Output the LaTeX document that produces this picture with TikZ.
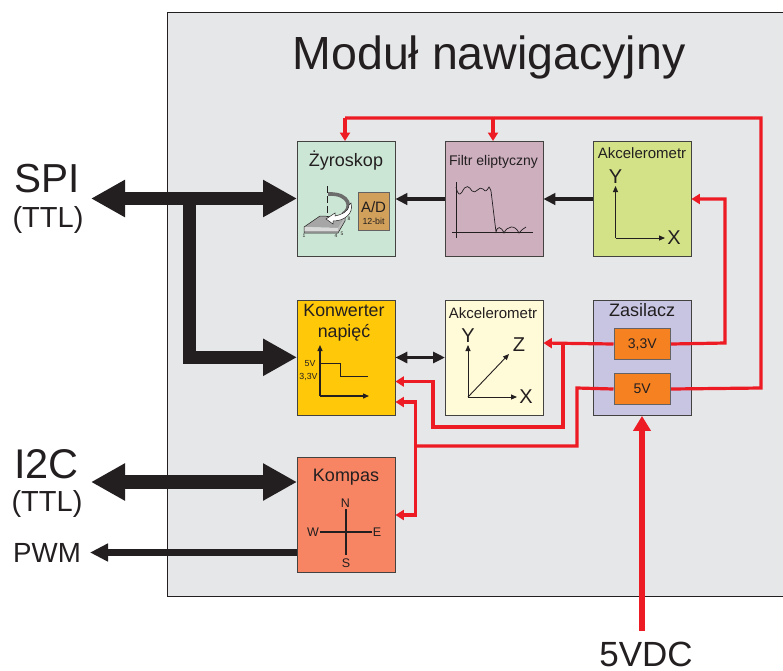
\documentclass[tikz,border=0pt]{standalone}
\usepackage{fontspec}
\setmainfont{Liberation Sans}
\usetikzlibrary{arrows.meta}
\definecolor{rd}{HTML}{ED1C24}
\definecolor{bk}{HTML}{231F20}
\definecolor{pan}{HTML}{E6E7E9}
\definecolor{orng}{HTML}{F68121}
\tikzset{
 x=1pt,y=-1pt,
 block/.style={draw=bk!85!white,line width=0.9pt,anchor=north west,minimum width=97.5pt,minimum height=115pt,inner sep=0pt},
 sub/.style={draw=bk!70!white,line width=1pt,fill=orng,anchor=north west,minimum width=56.5pt,minimum height=31pt,inner sep=0pt,font=\fontsize{14}{15}\selectfont,text=bk},
 lbl/.style={text=bk,inner sep=0pt,align=center},
 pwr/.style={draw=rd,line width=3.2pt,-{Triangle[length=8.5pt,width=10pt]}},
 pwrn/.style={draw=rd,line width=3.2pt},
 fat/.style={draw=bk,line width=13.5pt,{Triangle[length=34pt,width=35pt]}-{Triangle[length=34pt,width=35pt]}},
 fat1/.style={draw=bk,line width=13.5pt,-{Triangle[length=34pt,width=35pt]}},
 med/.style={draw=bk,line width=6.5pt,-{Triangle[length=18pt,width=17pt]}},
 ax/.style={draw=bk,line width=0.9pt,-{Triangle[length=6pt,width=5pt]}},
}
\begin{document}
\begin{tikzpicture}
\useasboundingbox (0,0) rectangle (783,670);
\fill[pan] (167,12) rectangle (783,596);
\draw[bk,line width=1pt] (783,12) -- (167,12) -- (167,596) -- (783,596);
\node[lbl,font=\fontsize{46.5}{50}\selectfont] (title) at (489,57) {Moduł nawigacyjny};

\node[block,fill={rgb,255:red,203;green,230;blue,213}] (zyro) at (297,141) {};
\node[block,fill={rgb,255:red,205;green,175;blue,190}] (filt) at (445,141) {};
\node[block,fill={rgb,255:red,211;green,226;blue,135}] (ak1) at (593,141) {};
\node[block,fill={rgb,255:red,255;green,200;blue,8}] (konw) at (297,300) {};
\node[block,fill={rgb,255:red,255;green,250;blue,215}] (ak2) at (445,300) {};
\node[block,fill={rgb,255:red,199;green,197;blue,226}] (zas) at (593,300) {};
\node[block,fill={rgb,255:red,247;green,133;blue,100}] (komp) at (297,457) {};
\node[sub] (v33) at (613.5,328) {3,3V};
\node[sub] (v5) at (613.5,373) {5V};
\node[lbl,font=\fontsize{18}{20}\selectfont] (t1) at (346,161) {Żyroskop};
\node[lbl,font=\fontsize{14}{16}\selectfont] (t2) at (493.5,162) {Filtr eliptyczny};
\node[lbl,font=\fontsize{15}{16}\selectfont] (t3) at (642,153.5) {Akcelerometr};
\node[lbl,font=\fontsize{17.8}{21}\selectfont] (t4) at (344,323) {Konwerter\\napięć};
\node[lbl,font=\fontsize{15}{16}\selectfont] (t5) at (493,313) {Akcelerometr};
\node[lbl,font=\fontsize{18}{20}\selectfont] (t6) at (642,310.5) {Zasilacz};
\node[lbl,font=\fontsize{18}{20}\selectfont] (t7) at (346,477) {Kompas};

% red
\coordinate (c1) at (345,118);
\coordinate (c2) at (493,118);
\coordinate (c3) at (761,118);
\coordinate (c4) at (761,388);
\coordinate (c5) at (725,343);
\coordinate (c6) at (725,199);
\coordinate (c7) at (563,343);
\coordinate (c8) at (563,427);
\coordinate (c9) at (433,427);
\coordinate (c10) at (433,381.5);
\coordinate (c11) at (577,388);
\coordinate (c12) at (577,446);
\coordinate (c13) at (415.5,446);
\coordinate (c14) at (415.5,402);
\coordinate (c15) at (415.5,515);
\draw[pwrn,line join=miter] (v5.east) -- (c4) -- (c3) -- (c1);
\draw[pwr] (c1) -- (345,141);
\draw[pwr] (c2) -- (493,141);
\draw[pwr] (v33.east) -- (c5) -- (c6) -- (ak1.east |- c6);
\draw[pwr] (v33.west) -- (ak2.east |- c7);
\draw[pwr] (c7) -- (c8) -- (c9) -- (c10) -- (konw.east |- c10);
\draw[pwrn] (v5.west) -- (c11) -- (c12) -- (c13);
\draw[pwr] (c13) -- (c14) -- (konw.east |- c14);
\draw[pwr] (c13) -- (c15) -- (komp.east |- c15);
\coordinate (d1) at (642,630.5);
\draw[rd,line width=6.8pt,-{Triangle[length=15pt,width=17pt]}] (d1) -- (zas.south -| d1);

% black
\coordinate (s0) at (91,198.5);
\coordinate (s1) at (189.5,198.5);
\coordinate (s2) at (189.5,357.3);
\coordinate (i0) at (91,482);
\coordinate (p0) at (90,552.5);
\draw[fat] (s0) -- (zyro.west |- s0);
\draw[fat1,line join=miter] (s1) -- (s2) -- (konw.west |- s2);
\draw[fat] (i0) -- (komp.west |- i0);
\draw[med] (komp.west |- p0) -- (p0);
\coordinate (f0) at (445,199);
\coordinate (f1) at (593,199);
\coordinate (f2) at (395,357.5);
\draw[draw=bk,line width=4.6pt,-{Triangle[length=12pt,width=11.5pt]}] (filt.west |- f0) -- (zyro.east |- f0);
\draw[draw=bk,line width=4.6pt,-{Triangle[length=12pt,width=11.5pt]}] (ak1.west |- f1) -- (filt.east |- f1);
\draw[draw=bk,line width=3.4pt,{Triangle[length=12pt,width=11pt]}-{Triangle[length=12pt,width=11pt]}] (konw.east |- f2) -- (ak2.west |- f2);

% outside labels
\node[lbl,font=\fontsize{40.5}{44}\selectfont] (spi) at (47.5,179) {SPI};
\node[lbl,font=\fontsize{29}{32}\selectfont] (spit) at (48,220) {(TTL)};
\node[lbl,font=\fontsize{41.5}{44}\selectfont] (i2c) at (46.5,464) {I2C};
\node[lbl,font=\fontsize{29}{32}\selectfont] (i2ct) at (47,504) {(TTL)};
\node[lbl,font=\fontsize{27.7}{30}\selectfont] (pwm) at (47,553) {PWM};
\node[lbl,font=\fontsize{35}{38}\selectfont] (vdc) at (646,654.5) {5VDC};

% A/D
\node[draw=bk!70!white,line width=0.9pt,fill={rgb,255:red,209;green,160;blue,90},anchor=north west,minimum width=31pt,minimum height=38pt,inner sep=0pt] (ad) at (358,192) {};
\node[lbl,font=\fontsize{15}{16}\selectfont] (ad1) at (373.5,207.5) {A/D};
\node[lbl,font=\fontsize{8.8}{9}\selectfont] (ad2) at (373.5,221) {12-bit};
% gyro chip
\fill[gray!70] (304,227) -- (320,216) -- (345,217) -- (338,228) -- cycle;
\fill[gray!30] (304,227) -- (338,228) -- (338,231) -- (304,231) -- cycle;
\fill[gray!75] (304,231) rectangle (338,233);
\fill[gray!55] (338,228) -- (345,217) -- (345,221) -- (338,233) -- cycle;
\draw[bk,line width=0.5pt] (304,233) -- (304,227) -- (320,216) -- (345,217) -- (345,221) -- (338,233) -- cycle;
\draw[bk,line width=1pt,dash pattern=on 7pt off 3pt] (327,186) -- (327,217);
\draw[gray!85!black,line width=3.6pt] (328,194) .. controls (351,193) and (352,209) .. (343,214);
\draw[bk,line width=0.5pt,fill=white] (349,205) .. controls (349,212) and (340,215) .. (335,216) -- (335,213) -- (326,219) -- (333,224) -- (333,221) .. controls (344,221) and (354,214) .. (351,203) -- cycle;
\node[lbl,font=\fontsize{5}{5}\selectfont] (n1) at (304,236) {1};
\node[lbl,font=\fontsize{5}{5}\selectfont] (n4) at (336,236) {4};
\node[lbl,font=\fontsize{5}{5}\selectfont] (n5) at (342,234) {5};
\node[lbl,font=\fontsize{5}{5}\selectfont] (n8) at (349,219) {8};
% filter
\draw[bk,line width=0.7pt] (456,182) -- (456,238);
\draw[bk,line width=0.7pt] (452,232.5) -- (533,232.5);
\draw[bk,line width=0.7pt] (456,187) .. controls (458,196) and (460,195) .. (462,192) .. controls (466,184) and (469,186) .. (472,191) .. controls (476,195) and (479,185) .. (483,189) .. controls (486,193) and (487,190) .. (489,187) .. controls (490,187) and (490,190) .. (491,191) -- (496,232) .. controls (497,226) and (501,226) .. (504,233) .. controls (507,226) and (515,224) .. (519,233) .. controls (521,231) and (523,228) .. (526,227);
% ak1 axes
\draw[ax] (615.5,238) -- (615.5,186);
\draw[ax] (615.5,238) -- (665,238);
\node[lbl,font=\fontsize{20}{20}\selectfont] (y1) at (615.5,177) {Y};
\node[lbl,font=\fontsize{20}{20}\selectfont] (x1) at (674,238) {X};
% ak2 axes
\coordinate (o2) at (468,397);
\draw[ax] (o2) -- (468,345);
\draw[ax] (o2) -- (517,397);
\draw[ax] (o2) -- (509,354);
\node[lbl,font=\fontsize{20}{20}\selectfont] (y2) at (468,335.5) {Y};
\node[lbl,font=\fontsize{20}{20}\selectfont] (x2) at (526,397) {X};
\node[lbl,font=\fontsize{20}{20}\selectfont] (z2) at (519,345) {Z};
% konw plot
\draw[draw=bk,line width=1.3pt,-{Triangle[length=6pt,width=5pt]}] (320,396) -- (320,345);
\draw[draw=bk,line width=1.3pt,-{Triangle[length=6pt,width=5pt]}] (320,396) -- (369,396);
\draw[bk,line width=1pt] (320,363) -- (340,363) -- (340,376.5) -- (368,376.5);
\node[lbl,font=\fontsize{8.8}{9}\selectfont] (a5) at (310,363.5) {5V};
\node[lbl,font=\fontsize{8.8}{9}\selectfont] (a33) at (308.5,376.5) {3,3V};
% compass
\draw[bk,line width=1.7pt] (346,509) -- (346,555);
\draw[bk,line width=1.7pt] (320,532) -- (372,532);
\node[lbl,font=\fontsize{12.5}{13}\selectfont] (cn) at (345.5,503.5) {N};
\node[lbl,font=\fontsize{12.5}{13}\selectfont] (cs) at (346,563) {S};
\node[lbl,font=\fontsize{12.5}{13}\selectfont] (cw) at (313,532) {W};
\node[lbl,font=\fontsize{12.5}{13}\selectfont] (ce) at (377,532.5) {E};
\end{tikzpicture}
\end{document}
